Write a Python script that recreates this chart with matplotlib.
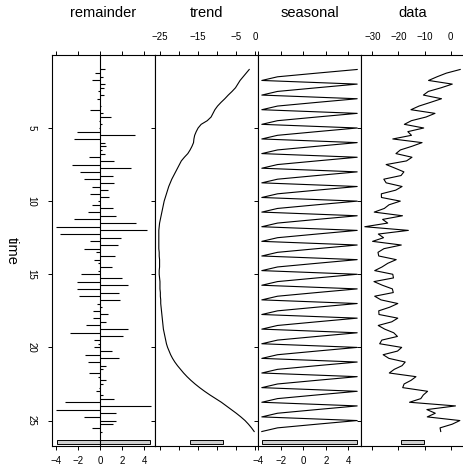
import numpy as np
import matplotlib
matplotlib.use("Agg")
import matplotlib.pyplot as plt
from matplotlib.patches import Rectangle

plt.rcParams['font.family'] = ['Liberation Sans', 'DejaVu Sans']

# time axis: quarterly, 1 .. 25.75
time = np.arange(1, 26, 0.25)

trend = [
    -1.6, -2.4, -3.2, -4.0, -4.6, -5.2, -6.1, -7.1,
    -8.0, -9.0, -9.9, -10.6, -11.1, -11.6, -12.6, -14.2,
    -15.0, -15.5, -15.9, -16.1, -16.2, -16.6, -17.1, -17.7,
    -18.6, -19.4, -19.9, -20.4, -20.9, -21.4, -21.9, -22.3,
    -22.7, -23.0, -23.3, -23.6, -23.9, -24.1, -24.3, -24.5,
    -24.7, -24.9, -25.1, -25.2, -25.3, -25.3, -25.3, -25.3,
    -25.3, -25.3, -25.2, -25.2, -25.1, -25.1, -25.1, -25.2,
    -25.2, -25.1, -25.0, -25.0, -25.0, -24.9, -24.9, -24.8,
    -24.8, -24.7, -24.6, -24.5, -24.4, -24.3, -24.2, -24.1,
    -23.9, -23.7, -23.5, -23.3, -23.0, -22.6, -22.2, -21.7,
    -21.1, -20.4, -19.6, -18.8, -17.9, -16.9, -15.8, -14.6,
    -13.3, -11.9, -10.4, -8.9, -7.6, -6.3, -5.0, -3.8,
    -2.7, -1.8, -1.0, -0.3,
]

seasonal_pattern = [4.8, 1.2, -2.3, -3.7]
seasonal = np.tile(seasonal_pattern, 25)

remainder = [
    0.45, -0.45, 0.27, -0.76, 0.42, 0.36, -0.15, 0.36,
    -0.3, 0.05, 0.1, -0.9, 0.3, 0.97, -0.12, 0.18,
    -0.12, -2.1, 3.2, -2.36, 0.45, 0.58, 0.15, 0.45,
    -1.0, 1.3, -2.5, 2.85, -1.8, 1.2, -1.4, 1.3,
    -0.7, 0.76, -0.94, 0.8, -0.18, -0.7, 1.2, -1.06,
    1.45, -2.36, 3.3, -3.97, 4.3, -3.6, 1.9, -0.9,
    1.6, -1.45, -0.33, 1.36, -0.55, -0.18, 1.12, -0.18,
    -1.76, 2.0, -2.06, 2.55, -2.12, 1.73, -1.9, 1.8,
    -0.24, 0.18, -0.64, 0.76, -0.64, 0.55, -1.24, 2.55,
    -2.7, 2.12, -0.55, -0.18, -0.55, 1.06, -1.36, 1.76,
    -1.1, 0.58, 0.3, -1.0, -0.18, 0.55, 0.27, -0.06,
    -0.33, 0.24, 1.27, -3.15, 4.65, -4.0, 1.42, -1.45,
    1.42, 1.18, -0.76, 0.2,
]

trend = np.array(trend)
remainder = np.array(remainder)
data = trend + seasonal + remainder

panels = {
    "remainder": remainder,
    "trend": trend,
    "seasonal": seasonal,
    "data": data,
}
names = list(panels.keys())

fig = plt.figure(figsize=(4.63, 4.68), dpi=100)
W, H = 463, 468
left_px = [52, 155, 258, 361]
width_px = 103
top_px, bot_px = 55, 446

# time limits like R (4% extension), inverted
t0, t1 = time.min(), time.max()
ext = 0.04 * (t1 - t0)
tlim = (t0 - ext, t1 + ext)

# range bars: length = smallest panel range
ranges = [np.ptp(v) for v in panels.values()]
mx = min(ranges)
dt = (tlim[1] - tlim[0]) / 64.0

xticks = {
    "remainder": ([-4, -2, 0, 2, 4], ["−4", "−2", "0", "2", "4"]),
    "trend": ([-25, -20, -15, -10, -5, 0], ["−25", "", "−15", "", "−5", "0"]),
    "seasonal": ([-4, -2, 0, 2, 4], ["−4", "−2", "0", "2", "4"]),
    "data": ([-30, -20, -10, 0], ["−30", "−20", "−10", "0"]),
}

for i, name in enumerate(names):
    vals = panels[name]
    ax = fig.add_axes([left_px[i] / W, 1 - bot_px / H,
                       width_px / W, (bot_px - top_px) / H])
    lo, hi = vals.min(), vals.max()
    e = 0.04 * (hi - lo)
    ax.set_xlim(lo - e, hi + e)
    ax.set_ylim(tlim[1], tlim[0])

    if name == "remainder":
        ax.hlines(time, 0, vals, color='black', lw=0.8)
        ax.axvline(0, color='black', lw=0.8)
    else:
        ax.plot(vals, time, color='black', lw=0.8)

    # range bar
    mid = (lo + hi) / 2
    ax.add_patch(Rectangle((mid - mx / 2, tlim[1] - dt), mx, 0.6 * dt,
                           facecolor='#d0d0d0', edgecolor='black', lw=0.7,
                           clip_on=False))

    tk, tl = xticks[name]
    ax.set_xticks(tk)
    ax.set_xticklabels(tl)
    labels_bottom = (i % 2 == 0)
    ax.tick_params(axis='x', top=True, bottom=True,
                   labelbottom=labels_bottom, labeltop=not labels_bottom,
                   direction='out', length=3, width=0.7, labelsize=7,
                   pad=4 if labels_bottom else 6)

    ax.set_yticks([5, 10, 15, 20, 25])
    ax.tick_params(axis='y', left=True, right=False, direction='out',
                   length=3, width=0.7, labelsize=7, pad=8,
                   labelleft=(i == 0))
    if i == 0:
        for lab in ax.get_yticklabels():
            lab.set_rotation(-90)
            lab.set_va('center')
    for sp in ax.spines.values():
        sp.set_linewidth(0.8)

    fig.text((left_px[i] + width_px / 2) / W, 1 - 13 / H, name,
             ha='center', va='center', fontsize=10.5)

fig.text(12 / W, 1 - ((top_px + bot_px) / 2) / H, "time", rotation=-90,
         ha='center', va='center', fontsize=10.5)

fig.savefig("out.png", dpi=100)
